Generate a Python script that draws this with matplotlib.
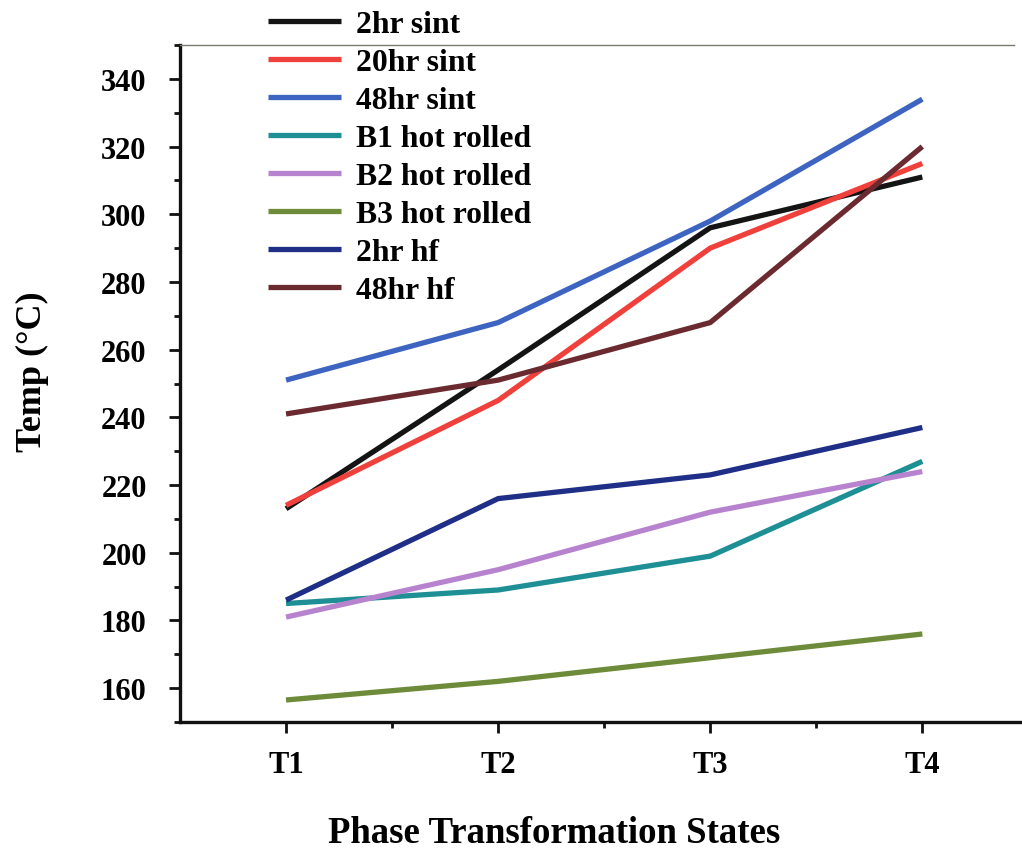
import matplotlib
matplotlib.use("Agg")
import matplotlib.pyplot as plt
from matplotlib.ticker import MultipleLocator, FixedLocator

plt.rcParams['font.family'] = ['Liberation Serif', 'DejaVu Serif']
plt.rcParams['font.weight'] = 'bold'

# Phase transformation states and measured temperatures (°C)
states = ["T1", "T2", "T3", "T4"]
sint_2hr = [213, 254, 296, 311]
sint_20hr = [214, 245, 290, 315]
sint_48hr = [251, 268, 298, 334]
b1_hot_rolled = [185, 189, 199, 227]
b2_hot_rolled = [181, 195, 212, 224]
b3_hot_rolled = [156.5, 162, 169, 176]
hf_2hr = [186, 216, 223, 237]
hf_48hr = [241, 251, 268, 320]

series = [
    ("2hr sint", sint_2hr, "#141414"),
    ("20hr sint", sint_20hr, "#f0403c"),
    ("48hr sint", sint_48hr, "#3c64c0"),
    ("B1 hot rolled", b1_hot_rolled, "#1e8f95"),
    ("B2 hot rolled", b2_hot_rolled, "#b783cf"),
    ("B3 hot rolled", b3_hot_rolled, "#6e8b3a"),
    ("2hr hf", hf_2hr, "#1f2e86"),
    ("48hr hf", hf_48hr, "#6a2a30"),
]

W, H = 1022, 853
fig = plt.figure(figsize=(W / 100, H / 100), dpi=100)
ax = fig.add_axes([180 / W, 130 / H, 1 - 180 / W, (807 - 130) / H])

x = list(range(1, len(states) + 1))
handles = []
for label, vals, color in series:
    h, = ax.plot(x, vals, color=color, lw=3.8, solid_capstyle='butt', label=label)
    handles.append(h)

ax.set_xlim(0.5, 4.47)
ax.set_ylim(150, 350)
ax.set_xticks(x)
ax.set_xticklabels(states)
ax.xaxis.set_minor_locator(FixedLocator([1.5, 2.5, 3.5]))
ax.yaxis.set_major_locator(MultipleLocator(20))
ax.yaxis.set_minor_locator(MultipleLocator(10))
ax.set_yticks(range(160, 341, 20))

ax.tick_params(axis='both', which='major', direction='out', length=8, width=2,
               labelsize=22, color='#111111')
ax.tick_params(axis='both', which='minor', direction='out', length=4.5, width=2,
               color='#111111')
ax.tick_params(axis='y', which='major', pad=16)
ax.tick_params(axis='x', which='major', pad=12)

ax.spines['right'].set_visible(False)
for side in ('left', 'bottom'):
    ax.spines[side].set_linewidth(2.4)
    ax.spines[side].set_color('#111111')
ax.spines['top'].set_linewidth(1.0)
ax.spines['top'].set_color('#7a7a70')
ax.spines['top'].set_bounds(0.5, 4.43)

# Axis titles placed in figure coordinates
fig.text(554 / W, 1 - 843 / H, "Phase Transformation States", fontsize=26.5,
         fontweight='bold', ha='center', va='baseline')
fig.text(32 / W, 1 - 372 / H, "Temp (°C)", fontsize=26, fontweight='bold',
         ha='center', va='center', rotation=90)

leg = ax.legend(handles=handles, loc='upper left',
                bbox_to_anchor=(268 / W, 1 - 11 / H), bbox_transform=fig.transFigure,
                frameon=False, fontsize=22.8, handlelength=2.3, handletextpad=0.47,
                labelspacing=0.28, borderpad=0, borderaxespad=0)
for t in leg.get_texts():
    t.set_fontweight('bold')
for ln in leg.get_lines():
    ln.set_linewidth(3.8)

fig.savefig("out.png", dpi=100)
